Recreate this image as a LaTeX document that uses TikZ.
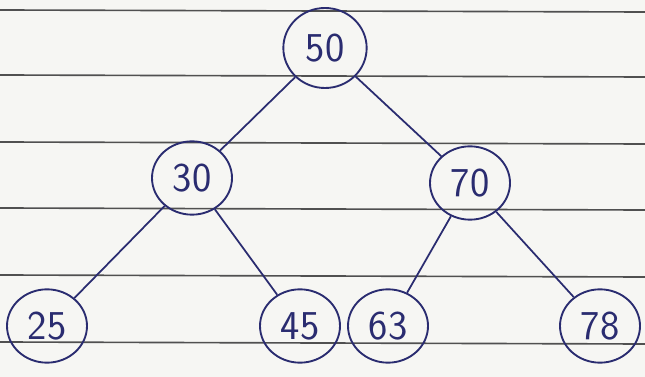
\documentclass[tikz,border=0pt]{standalone}
\usetikzlibrary{shapes.geometric}
\definecolor{ink}{RGB}{42,44,112}
\definecolor{rule}{RGB}{80,80,80}
\definecolor{paper}{RGB}{246,246,243}
\begin{document}
\begin{tikzpicture}[x=.03cm, y=-.03cm, key/.style={ellipse, draw=ink, line width=1.6pt, minimum width=2.4cm, minimum height=2.2cm, inner sep=0pt, text=ink, font=\sffamily\fontsize{35}{35}\selectfont}]
\fill[paper](0,0)rectangle(645,377);
\useasboundingbox(0,0)rectangle(645,377);
\foreach \y in {10,75,142,208,275,342}\draw[rule, line width=1.4pt](0,\y)--(645,\y+2);
\node[key, minimum width=2.5cm, minimum height=2.4cm] (n50) at (325,48) {50};
\node[key] (n30) at (192,178) {30};
\node[key] (n70) at (470,183) {70};
\node[key] (n25) at (47,326) {25};
\node[key] (n45) at (300,326) {45};
\node[key] (n63) at (388,326) {63};
\node[key] (n78) at (600,326) {78};
\draw[ink, line width=1.5pt](n50)--(n30);
\draw[ink, line width=1.5pt](n50)--(n70);
\draw[ink, line width=1.5pt](n30)--(n25);
\draw[ink, line width=1.5pt](n30)--(n45);
\draw[ink, line width=1.5pt](n70)--(n63);
\draw[ink, line width=1.5pt](n70)--(n78);
\end{tikzpicture}
\end{document}
